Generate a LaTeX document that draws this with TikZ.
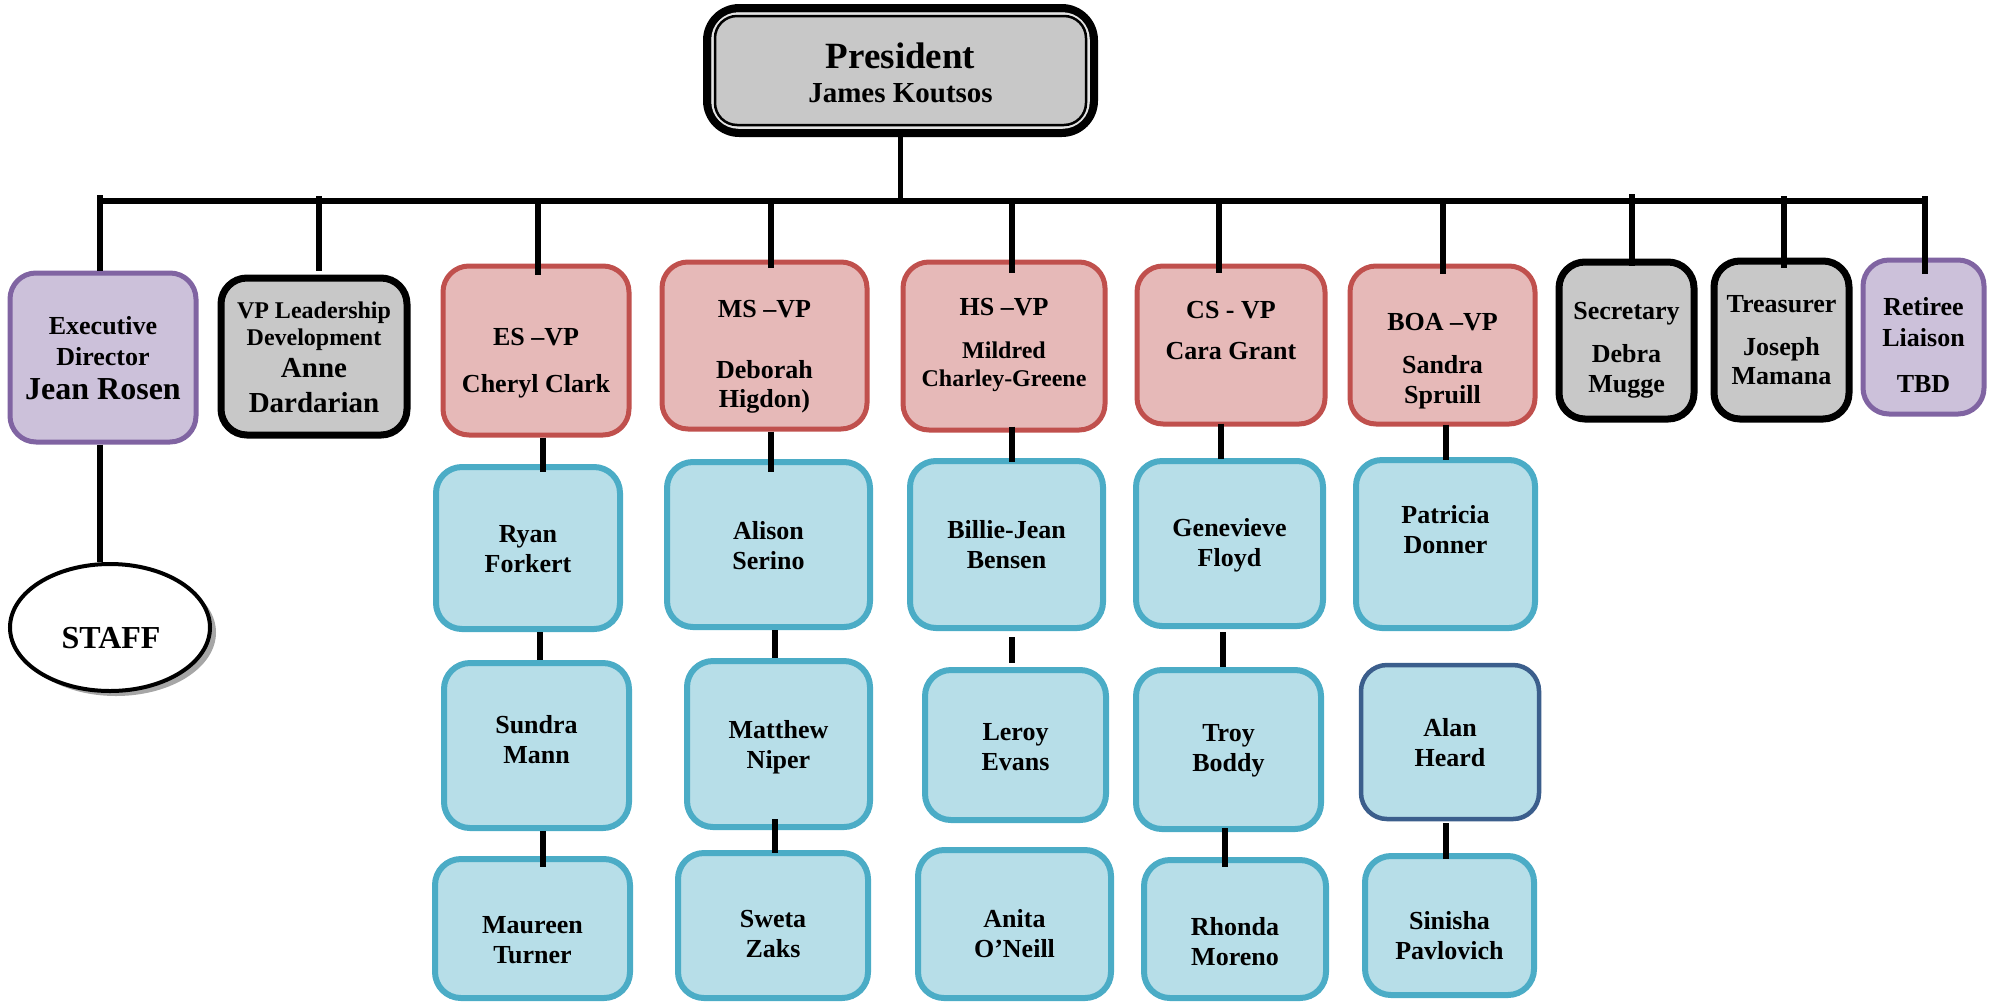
\documentclass[tikz,border=0pt]{standalone}
\usepackage{fontspec}
\setmainfont{Liberation Serif}
\usetikzlibrary{fit,calc,shapes.geometric,shadows}
\definecolor{bluefill}{HTML}{B7DEE8}
\definecolor{blueline}{HTML}{4BACC6}
\definecolor{redfill}{HTML}{E6B9B8}
\definecolor{redline}{HTML}{C0504D}
\definecolor{purfill}{HTML}{CCC1DA}
\definecolor{purline}{HTML}{8064A2}
\definecolor{grayfill}{HTML}{C8C8C8}
\definecolor{navyline}{HTML}{3B5E8C}
\definecolor{gapline}{HTML}{E4E4E4}
% box: style, name, x1, y1, x2, y2 (outer edges, px), text centre y, text style, text
\newcommand{\obox}[9]{%
  \node[#1, fit={({#3+3},{#4+3}) ({#5-3},{#6-3})}] (#2) {};
  \node[txt,#8] (#2-t) at ({(#3+#5)/2},#7) {#9};
}
% connector: from, to, x (px), start offset, end offset (px, + = down)
\newcommand{\conn}[5]{%
  \coordinate (x-#1-#2) at (#3,0);
  \draw[link] ($(#1.south -| x-#1-#2)+(0,#4)$) -- ($(#2.north -| x-#1-#2)+(0,#5)$);
}
% drop from the bus: name, x, top y, end offset
\newcommand{\busdrop}[4]{%
  \coordinate (d-#1) at (#2,#3);
  \draw[link] (d-#1) -- ($(d-#1 |- #1.north)+(0,#4)$);
}
\tikzset{
  box/.style={rounded corners=13pt, inner sep=0pt},
  bluebox/.style={box, fill=bluefill, draw=blueline, line width=3pt},
  redbox/.style={box, fill=redfill, draw=redline, line width=2.5pt},
  purbox/.style={box, fill=purfill, draw=purline, line width=2.5pt},
  graybox/.style={box, fill=grayfill, draw=black, line width=3.5pt},
  navybox/.style={box, fill=bluefill, draw=navyline, line width=2.25pt},
  txt/.style={align=center, inner sep=0pt, font=\bfseries\fontsize{13}{15}\selectfont},
  link/.style={line width=2.75pt, black},
}
\begin{document}
\begin{tikzpicture}[x=0.5pt,y=-0.5pt]
\useasboundingbox (0,0) rectangle (1995,1002);

% President
\node[box, rounded corners=16pt, fill=grayfill, draw=black, line width=4.25pt,
      fit={(707.25,8.25) (1093.75,132.75)}] (pres) {};
\draw[gapline, line width=1.25pt, rounded corners=13pt]
  ($(pres.north west)+(9.5,9.5)$) rectangle ($(pres.south east)+(-9.5,-9.5)$);
\draw[black, line width=1.25pt, rounded corners=11pt]
  ($(pres.north west)+(12,12)$) rectangle ($(pres.south east)+(-12,-12)$);
\node[txt, font=\bfseries\fontsize{14.5}{16}\selectfont] (pres-t) at (900.5,73)
  {{\fontsize{18.5}{20}\selectfont President}\\[1pt]James Koutsos};

% bus
\coordinate (bus-L) at (99,201);
\coordinate (bus-R) at (1927,201);
\draw[link] (bus-L) -- (bus-R);
\draw[link] ($(pres.south)+(0,-8)$) -- (pres.south |- bus-L);

% top row
\obox{purbox}{exec}{7}{270}{199}{445}{358}{}{Executive\\[0.5pt]Director\\[2pt]{\fontsize{16}{17}\selectfont Jean Rosen}}
\obox{graybox}{vpl}{218}{275}{410}{438}{357.5}{font=\bfseries\fontsize{12}{13.5}\selectfont}{VP Leadership\\Development\\[2.5pt]{\fontsize{14.5}{16}\selectfont Anne}\\[4pt]{\fontsize{14.5}{16}\selectfont Dardarian}}
\obox{redbox}{es}{440}{263}{632}{438}{363}{}{ES –VP\\[8.5pt]Cheryl Clark}
\obox{redbox}{ms}{659}{259}{870}{432}{356.5}{}{MS –VP\\[15.5pt]Deborah\\[-0.5pt]Higdon)}
\obox{redbox}{hs}{900}{259}{1108}{433}{344.5}{}{HS –VP\\[6.5pt]{\fontsize{12}{14}\selectfont Mildred}\\[-1pt]{\fontsize{12}{14}\selectfont Charley-Greene}}
\obox{redbox}{cs}{1134}{263}{1328}{427}{331}{}{CS - VP\\[5.5pt]Cara Grant}
\obox{redbox}{boa}{1347}{263}{1538}{427}{361.5}{}{BOA –VP\\[6.5pt]Sandra\\Spruill}
\obox{graybox}{sec}{1556}{259}{1697}{422}{350}{}{Secretary\\[6.5pt]Debra\\Mugge}
\obox{graybox}{tre}{1711}{258}{1852}{422}{340}{}{Treasurer\\[6.5pt]Joseph\\[-0.5pt]Mamana}
\obox{purbox}{ret}{1860}{257}{1987}{417}{345.5}{}{Retiree\\[0.5pt]Liaison\\[8pt]TBD}

% drops from the bus
\busdrop{exec}{100}{195}{0}
\busdrop{vpl}{319}{196}{-4}
\busdrop{es}{538}{201}{11}
\busdrop{ms}{771}{201}{8}
\busdrop{hs}{1012}{201}{13}
\busdrop{cs}{1219}{201}{9}
\busdrop{boa}{1443}{201}{10}
\busdrop{sec}{1632}{194}{7}
\busdrop{tre}{1784}{196}{10}
\busdrop{ret}{1925}{196}{16}

% staff
\node[ellipse, draw=black, line width=2pt, fill=white, inner sep=0pt,
      minimum width=100pt, minimum height=63.5pt,
      drop shadow={shadow xshift=3pt, shadow yshift=-2.5pt, fill=black!35, opacity=1}]
      (staff) at (110,627.5) {};
\node[txt, font=\bfseries\fontsize{16}{18}\selectfont] (staff-t) at (111,638) {STAFF};
\conn{exec}{staff}{100}{0}{0}

% ES column
\obox{bluebox}{ryan}{433}{464}{623}{632}{549}{}{Ryan\\Forkert}
\obox{bluebox}{sundra}{441}{660}{632}{831}{740}{}{Sundra\\Mann}
\obox{bluebox}{maureen}{432}{856}{633}{1001}{940}{}{Maureen\\Turner}
% MS column
\obox{bluebox}{alison}{664}{459}{873}{630}{546}{}{Alison\\Serino}
\obox{bluebox}{matthew}{684}{658}{873}{830}{747}{}{Matthew\\Niper}
\obox{bluebox}{sweta}{675}{850}{871}{1001}{934}{}{Sweta\\Zaks}
% HS column
\obox{bluebox}{billie}{907}{458}{1106}{631}{545}{}{Billie-Jean\\Bensen}
\obox{bluebox}{leroy}{922}{667}{1109}{823}{747}{}{Leroy\\Evans}
\obox{bluebox}{anita}{915}{847}{1114}{1001}{934}{}{Anita\\O’Neill}
% CS column
\obox{bluebox}{genevieve}{1133}{458}{1326}{629}{545}{}{Genevieve\\Floyd}
\obox{bluebox}{troy}{1133}{667}{1324}{832}{751}{}{Troy\\Boddy}
\obox{bluebox}{rhonda}{1141}{857}{1329}{1001}{942}{}{Rhonda\\Moreno}
% BOA column
\obox{bluebox}{patricia}{1353}{457}{1538}{631}{530}{}{Patricia\\Donner}
\obox{navybox}{alan}{1358}{662}{1542}{822}{743}{}{Alan\\Heard}
\obox{bluebox}{sinisha}{1362}{853}{1537}{998}{936}{}{Sinisha\\Pavlovich}

% column connectors
\conn{es}{ryan}{543}{0}{8}
\conn{ryan}{sundra}{540}{0}{0}
\conn{sundra}{maureen}{543}{0}{11}
\conn{ms}{alison}{771}{0}{13}
\conn{alison}{matthew}{775}{0}{0}
\conn{matthew}{sweta}{775}{-11}{3}
\conn{hs}{billie}{1012}{-6}{4}
\conn{billie}{leroy}{1012}{6}{-4}
\conn{cs}{genevieve}{1221}{-3}{1}
\conn{genevieve}{troy}{1223}{3}{0}
\conn{troy}{rhonda}{1225}{-4}{10}
\conn{boa}{patricia}{1446}{-2}{3}
\conn{alan}{sinisha}{1446}{2}{6}
\end{tikzpicture}
\end{document}
